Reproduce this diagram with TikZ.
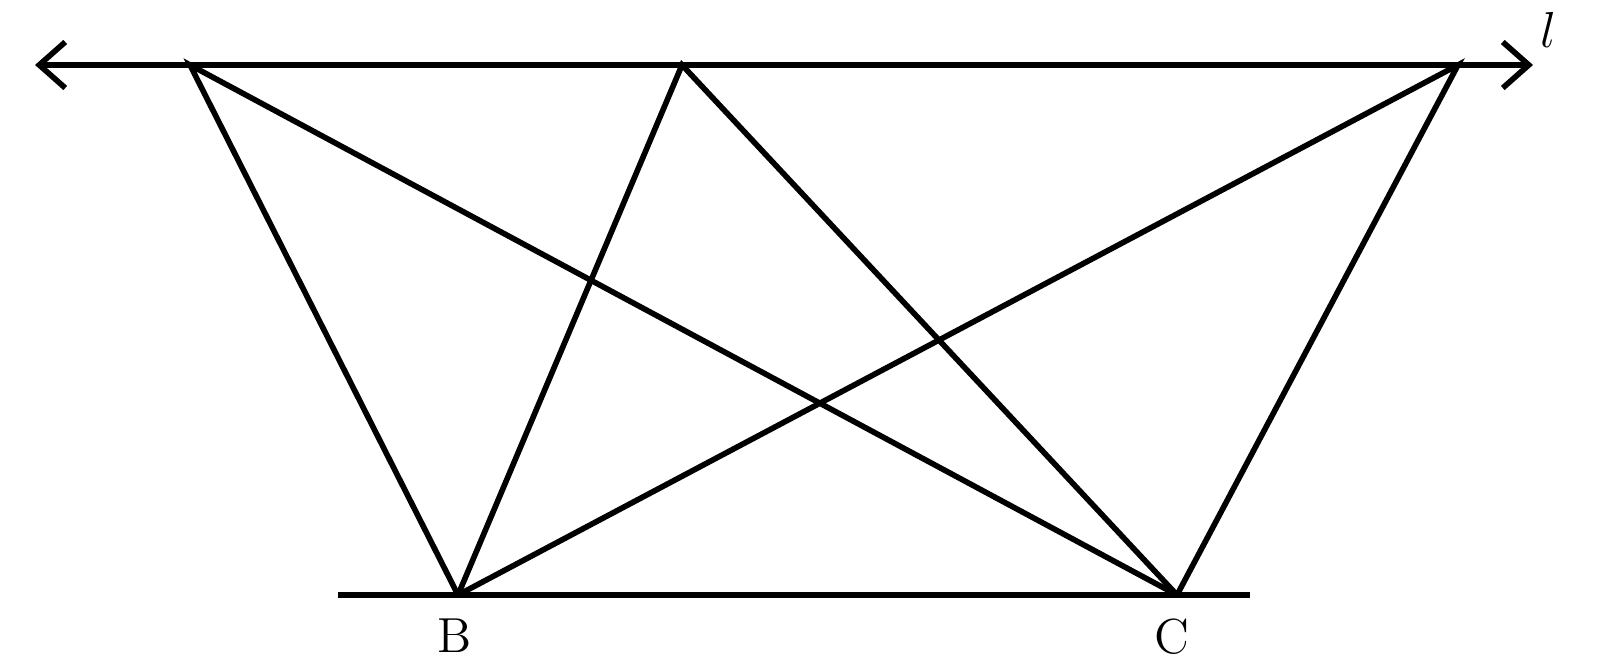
\documentclass[tikz,border=0pt]{standalone}
\usepackage{amsfonts, amssymb, amsmath}
\usetikzlibrary{arrows.meta}
\usetikzlibrary{calc}
\tikzset{ln/.style={line width=1.6pt, line cap=butt}}
\tikzset{lbl/.style={font=\fontsize{14}{14}\selectfont, inner sep=0pt}}
\tikzset{barb/.style={{Straight Barb[length=2.6mm,width=4.6mm,line width=1.6pt]}-{Straight Barb[length=2.6mm,width=4.6mm,line width=1.6pt]}}}

\begin{document}
\begin{tikzpicture}
        \useasboundingbox (0,0) rectangle (16,-6.71);
        % line l
        \coordinate (L) at (0.35,-0.65);
        \coordinate (R) at (15.33,-0.65);
        \draw [ln, barb] (L) -- (R);
        \node [lbl, font=\fontsize{15}{15}\selectfont] (l) at (15.48,-0.30) {$l$};
        % points on l
        \coordinate (P) at (1.90,-0.65);
        \coordinate (Q) at (6.82,-0.65);
        \coordinate (S) at (14.58,-0.65);
        % base
        \coordinate (E) at (3.38,-5.95);
        \coordinate (F) at (12.50,-5.95);
        \draw [ln] (E) -- (F);
        \coordinate (B) at (4.58,-5.95);
        \coordinate (C) at (11.77,-5.95);
        \node [lbl] (Bl) at (4.55,-6.36) {B};
        \node [lbl] (Cl) at (11.72,-6.37) {C};
        % triangles
        \draw [ln] (B) -- (P) -- (C);
        \draw [ln] (B) -- (Q) -- (C);
        \draw [ln] (B) -- (S) -- (C);
      \end{tikzpicture}
\end{document}
